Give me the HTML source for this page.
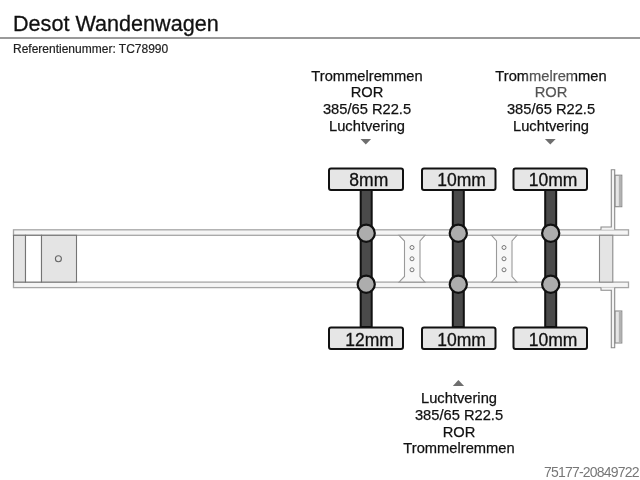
<!DOCTYPE html>
<html><head><meta charset="utf-8">
<style>
html,body{margin:0;-webkit-font-smoothing:antialiased;padding:0;background:#fff;width:640px;height:480px;overflow:hidden;position:relative;font-family:"Liberation Sans",sans-serif;color:#111;}
.t{position:absolute;white-space:nowrap;will-change:transform;}
#title{left:12.5px;top:11px;font-size:21.6px;-webkit-text-stroke:0.3px #111;}
#hr{position:absolute;left:0;top:37px;width:640px;height:1.7px;background:#9a9a9a;}
#ref{left:12.7px;top:41.7px;font-size:12px;color:#222;-webkit-text-stroke:0.2px #222;}
.ln{position:absolute;width:160px;text-align:center;font-size:14.7px;line-height:17px;height:17px;color:#111;will-change:transform;-webkit-text-stroke:0.25px #111;}
#foot{right:1.5px;top:464px;font-size:14px;color:#777;letter-spacing:-0.8px;}
svg{position:absolute;left:0;top:0;}
.tire{font-family:"Liberation Sans",sans-serif;font-size:17.5px;}
</style></head><body>
<div class="t" id="title">Desot Wandenwagen</div>
<div id="hr"></div>
<div class="t" id="ref">Referentienummer: TC78990</div>

<!--L1-->
<div class="ln" style="left:286.8px;top:68.05px;">Trommelremmen</div>
<div class="ln" style="left:286.8px;top:83.90px;">ROR</div>
<div class="ln" style="left:286.8px;top:101.00px;">385/65 R22.5</div>
<div class="ln" style="left:286.8px;top:117.50px;">Luchtvering</div>
<!--L2-->
<div class="ln" style="left:470.7px;top:68.05px;">Trommelremmen</div>
<div class="ln" style="left:470.7px;top:83.90px;">ROR</div>
<div class="ln" style="left:470.7px;top:101.00px;">385/65 R22.5</div>
<div class="ln" style="left:470.7px;top:117.50px;">Luchtvering</div>
<div style="position:absolute;left:527px;top:66px;width:47px;height:34px;background:rgba(255,255,255,0.28);"></div>
<!--L3-->
<div class="ln" style="left:378.8px;top:390.20px;">Luchtvering</div>
<div class="ln" style="left:378.8px;top:407.00px;">385/65 R22.5</div>
<div class="ln" style="left:378.8px;top:423.50px;">ROR</div>
<div class="ln" style="left:378.8px;top:439.80px;">Trommelremmen</div>
<div class="t" id="foot">75177-20849722</div>

<svg width="640" height="480" viewBox="0 0 640 480">
  <!-- arrows -->
  <polygon points="360.5,138.9 371.1,138.9 365.8,144.6" fill="#6e6e6e"/>
  <polygon points="544.9,138.9 555.7,138.9 550.3,144.6" fill="#6e6e6e"/>
  <polygon points="452.8,385.9 464.1,385.9 458.4,380" fill="#6e6e6e"/>

  <!-- rails -->
  <rect x="13.5" y="229.8" width="615" height="5.5" fill="#f5f5f5" stroke="#a6a6a6" stroke-width="1.3"/>
  <rect x="13.5" y="282.1" width="615" height="5.5" fill="#f5f5f5" stroke="#a6a6a6" stroke-width="1.3"/>
  <!-- left end -->
  <rect x="13.5" y="235.3" width="12" height="46.8" fill="#e4e4e4" stroke="#747474" stroke-width="1.1"/>
  <rect x="25.5" y="235.3" width="16" height="46.8" fill="#fff" stroke="#747474" stroke-width="1.1"/>
  <rect x="41.5" y="235.3" width="35" height="46.8" fill="#e4e4e4" stroke="#747474" stroke-width="1.1"/>
  <circle cx="58.4" cy="258.8" r="3" fill="none" stroke="#666" stroke-width="1.1"/>

  <!-- I beams -->
  <g fill="#f8f8f8" stroke="#9a9a9a" stroke-width="1.1">
    <path d="M399,235.3 L425,235.3 L420,241 L420,276.5 L425,282.1 L399,282.1 L404.5,276.5 L404.5,241 Z"/>
    <path d="M491.5,235.3 L517,235.3 L512,241 L512,276.5 L517,282.1 L491.5,282.1 L496.5,276.5 L496.5,241 Z"/>
  </g>
  <g fill="none" stroke="#777" stroke-width="1">
    <circle cx="412" cy="247.5" r="2"/><circle cx="412" cy="258.8" r="2"/><circle cx="412" cy="269.8" r="2"/>
    <circle cx="504" cy="247.5" r="2"/><circle cx="504" cy="258.8" r="2"/><circle cx="504" cy="269.8" r="2"/>
  </g>

  <!-- right end -->
  <rect x="599.5" y="235.3" width="13.3" height="46.8" fill="#e4e4e4" stroke="#8a8a8a" stroke-width="1.1"/>
  <g fill="#f4f4f4" stroke="#8a8a8a" stroke-width="1.1">
    <path d="M601,229.8 L601,227 L611.3,227 L611.3,169.8 L614.7,169.8 L614.7,229.8"/>
    <path d="M601,287.6 L601,290.3 L611.3,290.3 L611.3,347.8 L614.7,347.8 L614.7,287.6"/>
    <rect x="615.1" y="175.2" width="6.7" height="31.5" fill="#e6e6e6"/>
    <rect x="615.1" y="311" width="6.7" height="32" fill="#e6e6e6"/>
  </g>
  <rect x="618.8" y="175.8" width="2.5" height="30.4" fill="#b2b2b2"/>
  <rect x="618.8" y="311.6" width="2.5" height="30.9" fill="#b2b2b2"/>

  <!-- axles -->
  <g stroke="#111" stroke-width="2">
    <rect x="360.7" y="190" width="11" height="137" fill="#4a4a4a"/>
    <rect x="452.8" y="190" width="11" height="137" fill="#4a4a4a"/>
    <rect x="545.2" y="190" width="11" height="137" fill="#4a4a4a"/>
  </g>
  <g stroke="#111" stroke-width="2.2" fill="#adadad">
    <circle cx="366.2" cy="233.2" r="8.6"/><circle cx="366.2" cy="284.2" r="8.6"/>
    <circle cx="458.3" cy="233.2" r="8.6"/><circle cx="458.3" cy="284.2" r="8.6"/>
    <circle cx="550.7" cy="233.2" r="8.6"/><circle cx="550.7" cy="284.2" r="8.6"/>
  </g>
  <!-- tires -->
  <g stroke="#111" stroke-width="2" fill="#e6e6e6">
    <rect x="329" y="168.5" width="74" height="21.5" rx="2"/>
    <rect x="422" y="168.5" width="73.5" height="21.5" rx="2"/>
    <rect x="513.5" y="168.5" width="73.5" height="21.5" rx="2"/>
    <rect x="329" y="327.5" width="74" height="21.5" rx="2"/>
    <rect x="422" y="327.5" width="73.5" height="21.5" rx="2"/>
    <rect x="513.5" y="327.5" width="73.5" height="21.5" rx="2"/>
  </g>
  <g class="tire" fill="#111" stroke="#111" stroke-width="0.3" text-anchor="middle">
    <text x="368.8" y="186">8mm</text>
    <text x="461.5" y="186">10mm</text>
    <text x="553" y="186">10mm</text>
    <text x="369.6" y="345.5">12mm</text>
    <text x="461.5" y="345.5">10mm</text>
    <text x="553" y="345.5">10mm</text>
  </g>
</svg>
</body></html>
